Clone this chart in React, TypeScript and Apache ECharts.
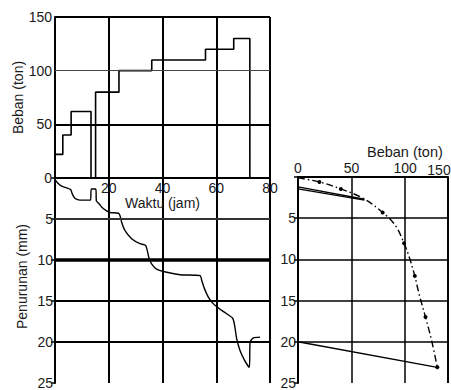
import React, { useEffect, useRef } from "react";
import * as echarts from "echarts";

// Load schedule (top-left): time (jam) at which each load level (ton) starts
const loadTime = [0, 2.9, 6, 13.4, 15.1, 23.8, 36, 56, 66.5, 72.5];
const loadTon = [22, 40, 62, 0, 80, 100, 110, 120, 130, 0];

// Settlement vs time (bottom-left)
const settleTime = [0, 1, 2.5, 4.3, 5.8, 6.5, 7.5, 9.3, 13.2, 13.5, 15.2, 15.4, 16.3, 17.5, 19.2, 20.5, 23.6, 24.2, 24.8, 26, 28.5, 31.6, 33.7, 34.3, 35, 36, 37.8, 41.6, 46.5, 54, 54.6, 55.5, 57, 58.5, 60.2, 62.7, 66.1, 66.8, 67.6, 68.8, 70.5, 72.3, 72.6, 73.8, 76.3];
const settleMm = [0.2, 0.6, 1.0, 1.2, 1.4, 2.0, 2.5, 2.7, 2.7, 1.35, 1.35, 2.8, 3.1, 3.6, 4.0, 4.2, 4.3, 4.6, 5.4, 6.4, 7.4, 8.0, 8.2, 8.8, 9.8, 10.5, 11.1, 11.5, 11.8, 11.9, 12.5, 13.4, 14.5, 15.2, 15.7, 16.3, 17.1, 17.9, 19.6, 21.0, 22.2, 23.1, 20.0, 19.5, 19.4];

// Load vs settlement (right)
const curveLoad = [0, 20, 40, 61, 79, 91, 99, 104, 109, 113, 119, 125, 130];
const curveMm = [0.1, 0.6, 1.45, 2.6, 4.3, 5.9, 8.05, 9.8, 12.0, 14.2, 17.0, 20.0, 23.1];
const curveDot = [false, true, true, false, true, false, true, false, true, false, true, false, true];

const unload1Load = [62, 0];
const unload1Mm = [2.7, 1.2];
const reload1Load = [0, 62];
const reload1Mm = [1.45, 2.8];
const unload2Load = [130, 0];
const unload2Mm = [23.1, 20];

const loadGridLines = [100, 50];
const settleGridLines = [5, 10, 15, 20];
const rightPanelMaxLoad = 140;

const font = "'Liberation Sans', Arial, Helvetica, sans-serif";
const txt = { color: "#1a1a1a", fontFamily: font, fontSize: 14 };
const axisLine = { show: true, onZero: false, lineStyle: { color: "#000", width: 2 } };

export default function App() {
  const ref = useRef<HTMLDivElement>(null);
  useEffect(() => {
    if (!ref.current) return;
    const chart = echarts.init(ref.current, null, { renderer: "svg" });
    const hLine = (v: number, w: number, c = "#000") => ({
      yAxis: v,
      lineStyle: { width: w, color: c, type: "solid" },
    });
    const option: any = {
      animation: false,
      textStyle: { fontFamily: font },
      grid: [
        { left: 55, top: 17, width: 215, height: 161 },
        { left: 55, top: 178, width: 215, height: 210 },
        { left: 298, top: 177, width: 151, height: 211 },
      ],
      xAxis: [
        {
          gridIndex: 0, type: "value", min: 0, max: 80, interval: 20, position: "bottom",
          axisLine, axisTick: { show: false },
          axisLabel: { ...txt, margin: 3, formatter: (v: number) => (v === 0 ? "" : String(v)) },
          splitLine: { show: true, lineStyle: { color: "#000", width: 2 } },
          name: "Waktu (jam)", nameLocation: "middle", nameGap: 17, nameTextStyle: { ...txt },
        },
        {
          gridIndex: 1, type: "value", min: 0, max: 80, interval: 20, position: "top",
          axisLine, axisTick: { show: false }, axisLabel: { show: false },
          splitLine: { show: true, lineStyle: { color: "#000", width: 2 } },
        },
        {
          gridIndex: 2, type: "value", min: 0, max: rightPanelMaxLoad, interval: 50, position: "top",
          axisLine, axisTick: { show: false },
          axisLabel: { ...txt, margin: 2, formatter: (v: number) => (v % 50 === 0 ? String(v) : "") },
          splitLine: { show: true, lineStyle: { color: "#000", width: 1.5 } },
        },
      ],
      yAxis: [
        {
          gridIndex: 0, type: "value", min: 0, max: 150, interval: 50,
          axisLine, axisTick: { show: false },
          axisLabel: { ...txt, margin: 3 },
          splitLine: { show: false },
          name: "Beban (ton)", nameLocation: "middle", nameGap: 28, nameTextStyle: { ...txt },
        },
        {
          gridIndex: 1, type: "value", min: 0, max: 25, interval: 5, inverse: true,
          axisLine, axisTick: { show: true, length: 4, lineStyle: { color: "#000", width: 1.5 } },
          axisLabel: { ...txt, margin: 2, formatter: (v: number) => (v === 0 ? "" : String(v)) },
          splitLine: { show: false },
          name: "Penurunan (mm)", nameLocation: "middle", nameGap: 26,
          nameTextStyle: { ...txt, padding: [0, 0, 0, 8] },
        },
        {
          gridIndex: 2, type: "value", min: 0, max: 25, interval: 5, inverse: true,
          axisLine, axisTick: { show: true, length: 4, lineStyle: { color: "#000", width: 1.5 } },
          axisLabel: { ...txt, margin: 2, formatter: (v: number) => (v === 0 ? "" : String(v)) },
          splitLine: { show: false },
        },
      ],
      series: [
        {
          type: "line", xAxisIndex: 0, yAxisIndex: 0, step: "end", clip: false,
          symbol: "none", data: loadTime.map((t, i) => [t, loadTon[i]]),
          lineStyle: { color: "#000", width: 1.6 },
          markLine: {
            silent: true, symbol: "none", label: { show: false },
            data: loadGridLines.map((v) => (v === 100 ? hLine(v, 1, "#444") : hLine(v, 2))),
          },
        },
        {
          type: "line", xAxisIndex: 1, yAxisIndex: 1, clip: false, smooth: 0.2,
          symbol: "none", data: settleTime.map((t, i) => [t, settleMm[i]]),
          lineStyle: { color: "#000", width: 1.4 },
          markLine: {
            silent: true, symbol: "none", label: { show: false },
            data: settleGridLines.map((v) => (v === 10 ? hLine(v, 3.5) : v === 5 ? hLine(v, 2, "#333") : hLine(v, 2))),
          },
        },
        {
          type: "line", xAxisIndex: 2, yAxisIndex: 2, clip: false, smooth: 0.35,
          showSymbol: true, symbol: "none",
          data: curveLoad.map((x, i) => ({
            value: [x, curveMm[i]],
            symbol: curveDot[i] ? "circle" : "none",
            symbolSize: 4,
          })),
          itemStyle: { color: "#000" },
          lineStyle: { color: "#000", width: 1.4, type: [7, 3, 1.5, 3] },
          markLine: {
            silent: true, symbol: "none", label: { show: false },
            data: settleGridLines.map((v) => hLine(v, 1.6)),
          },
        },
        {
          type: "line", xAxisIndex: 2, yAxisIndex: 2, clip: false, symbol: "none",
          data: unload1Load.map((x, i) => [x, unload1Mm[i]]),
          lineStyle: { color: "#000", width: 1.3 },
        },
        {
          type: "line", xAxisIndex: 2, yAxisIndex: 2, clip: false, symbol: "none",
          data: reload1Load.map((x, i) => [x, reload1Mm[i]]),
          lineStyle: { color: "#000", width: 1.3 },
        },
        {
          type: "line", xAxisIndex: 2, yAxisIndex: 2, clip: false, symbol: "none",
          data: unload2Load.map((x, i) => [x, unload2Mm[i]]),
          lineStyle: { color: "#000", width: 1.4 },
        },
        {
          // frame: right edge of the load–settlement panel
          type: "line", xAxisIndex: 2, yAxisIndex: 2, clip: false, symbol: "none", silent: true,
          data: [[rightPanelMaxLoad, 0], [rightPanelMaxLoad, 25]],
          lineStyle: { color: "#000", width: 1.8 },
        },
        {
          // frame: top edge of the load–time panel
          type: "line", xAxisIndex: 0, yAxisIndex: 0, clip: false, symbol: "none", silent: true,
          data: [[0, 150], [80, 150]],
          lineStyle: { color: "#000", width: 2 },
        },
      ],
      graphic: [
        {
          type: "text", x: 367, y: 152,
          style: { text: "Beban (ton)", fill: "#1a1a1a", font: `14.5px ${font}`, align: "left", verticalAlign: "middle" },
        },
        {
          type: "text", x: 439, y: 170,
          style: { text: "150", fill: "#1a1a1a", font: `14px ${font}`, align: "center", verticalAlign: "middle" },
        },
      ],
    };
    chart.setOption(option);
    return () => chart.dispose();
  }, []);
  return (
    <div
      ref={ref}
      style={{ position: "absolute", left: 0, top: 0, width: 451, height: 390, background: "#fff" }}
    />
  );
}
